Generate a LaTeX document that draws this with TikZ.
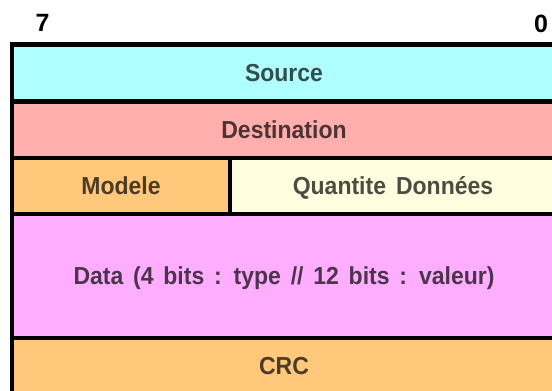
\documentclass[tikz,border=0pt]{standalone}
\usepackage{fontspec}
\setmainfont{Liberation Sans}
\definecolor{srccol}{RGB}{176,255,255}
\definecolor{dstcol}{RGB}{255,174,174}
\definecolor{orgcol}{RGB}{255,200,123}
\definecolor{ylwcol}{RGB}{255,255,224}
\definecolor{pnkcol}{RGB}{255,174,255}
\newcommand{\tallt}[1]{\scalebox{1}[1.07]{#1}}
\tikzset{
  cell/.style={draw=black, line width=4.3pt, inner sep=0pt, outer sep=0pt,
    font=\bfseries\fontsize{23pt}{27pt}\selectfont,
    text height=17.6pt, text depth=0pt, minimum height=56pt},
  bitlabel/.style={inner sep=0pt, font=\bfseries\fontsize{25pt}{29pt}\selectfont,
    text height=18pt, text depth=0pt, text=black}
}
\begin{document}
\begin{tikzpicture}[x=1pt,y=-1pt]
\useasboundingbox (0,0) rectangle (552,391);
\clip (0,0) rectangle (552,391);
\fill[white] (0,0) rectangle (552,391);
\node[cell, fill=srccol, text=srccol!30!black, minimum width=544pt, minimum height=56.5pt] (src) at (284,72.75) {\tallt{Source}};
\node[cell, fill=dstcol, text=dstcol!30!black, minimum width=544pt] (dst) at (284,130) {\tallt{Destination}};
\node[cell, fill=orgcol, text=orgcol!30!black, minimum width=218pt] (mod) at (121,186) {\tallt{Modele}};
\node[cell, fill=ylwcol, text=ylwcol!30!black, minimum width=326pt] (qty) at (393,186) {\tallt{{\spaceskip=10pt Quantite Données}}};
\node[cell, fill=pnkcol, text=pnkcol!30!black, minimum width=544pt, minimum height=124pt] (data) at (284,276) {\tallt{{\spaceskip=9.8pt Data (4 bits : type // 12 bits : valeur)}}};
\node[cell, fill=orgcol, text=orgcol!30!black, minimum width=544pt] (crc) at (284,366) {\tallt{CRC}};
\node[bitlabel] (b7) at (42.5,22.5) {7};
\node[bitlabel] (b0) at (541,23) {0};
\end{tikzpicture}
\end{document}
